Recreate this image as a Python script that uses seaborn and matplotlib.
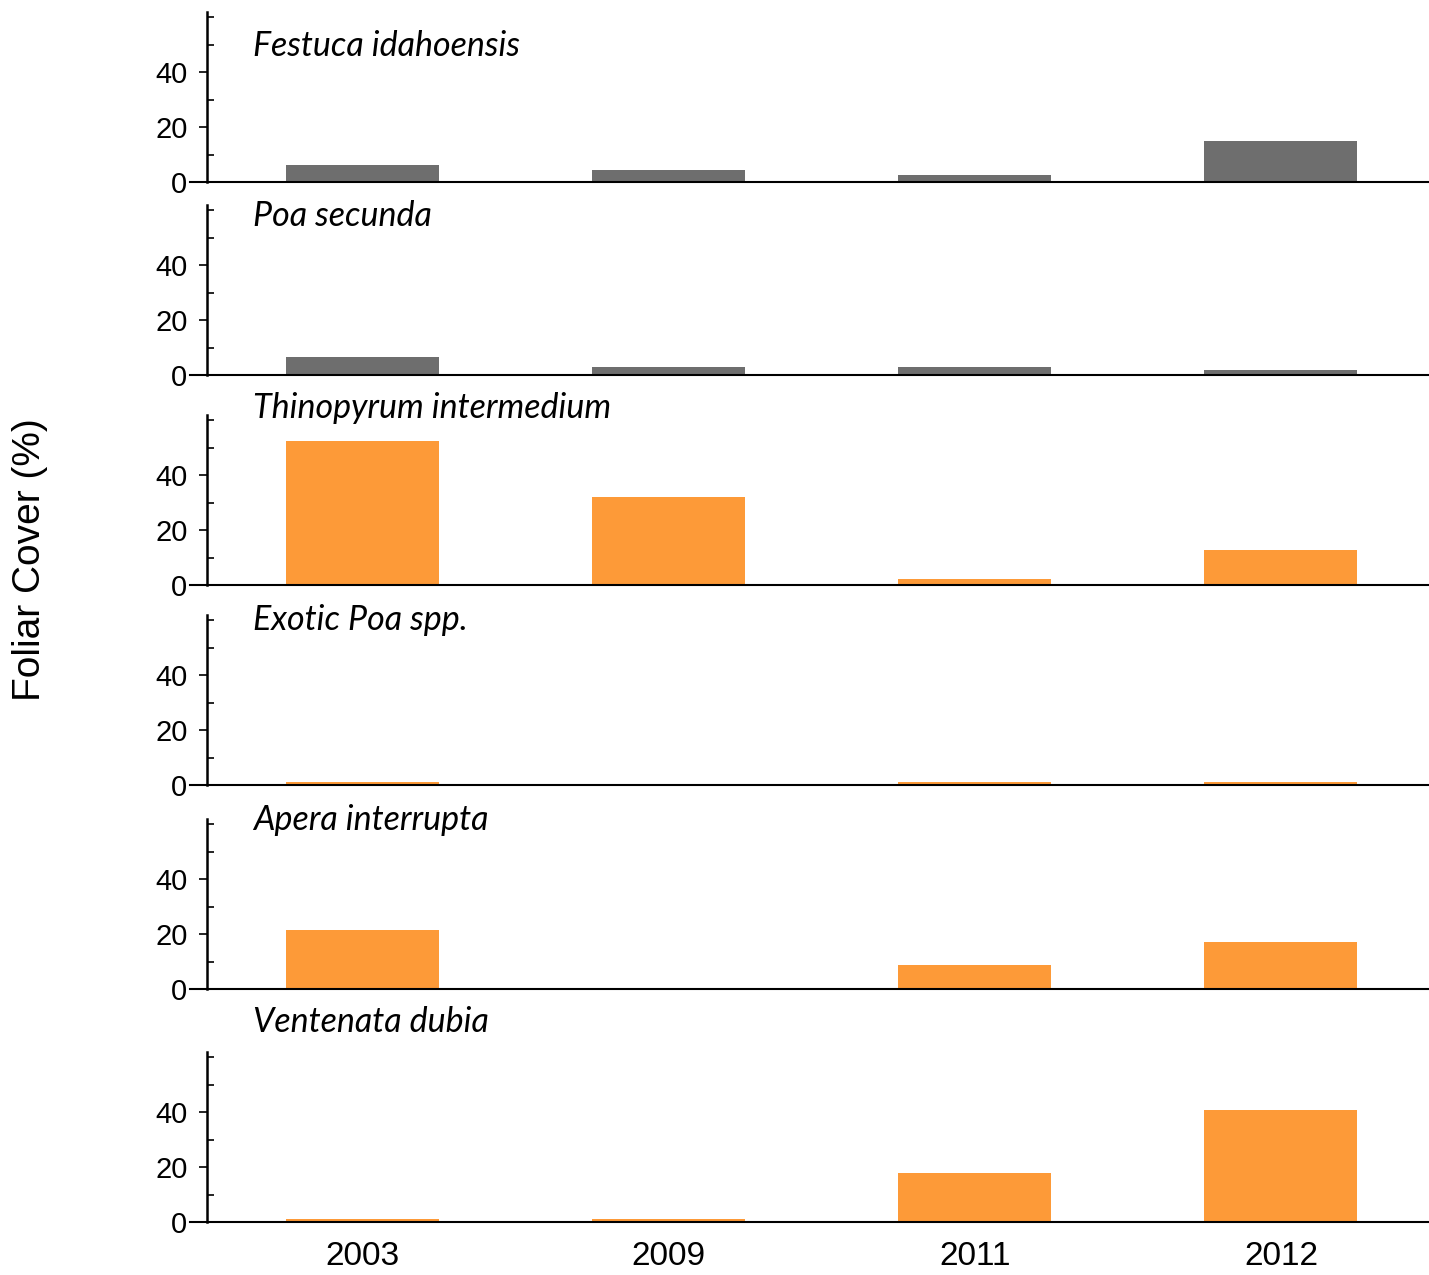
import matplotlib
matplotlib.use("Agg")
import matplotlib.pyplot as plt
from matplotlib.ticker import MultipleLocator
import seaborn as sns
import pandas as pd

# ---- data ----
years = ["2003", "2009", "2011", "2012"]
species = ["Festuca idahoensis", "Poa secunda", "Thinopyrum intermedium",
           "Exotic Poa spp.", "Apera interrupta", "Ventenata dubia"]
festuca = [6.2, 4.4, 2.5, 14.9]
poa_secunda = [6.4, 2.9, 2.9, 1.8]
thinopyrum = [52.6, 32.2, 2.2, 12.6]
exotic_poa = [1.1, 0.0, 1.1, 1.1]
apera = [21.5, 0.0, 8.7, 17.0]
ventenata = [1.2, 1.2, 18.0, 40.7]
status = ["native", "native", "exotic", "exotic", "exotic", "exotic"]
y_ticks = [0, 20, 40]

values = [festuca, poa_secunda, thinopyrum, exotic_poa, apera, ventenata]
palette = {"native": "#6e6e6e", "exotic": "#fd9a38"}

sns.set_style("ticks")
plt.rcParams["font.family"] = ["Liberation Sans", "DejaVu Sans"]
plt.rcParams["text.color"] = "black"
plt.rcParams["xtick.color"] = "black"
plt.rcParams["ytick.color"] = "black"
plt.rcParams["axes.edgecolor"] = "black"

W, H = 1429, 1275
fig = plt.figure(figsize=(W / 100, H / 100), dpi=100)

zero_px = [182, 375, 585, 785, 989, 1222]
title_px = [46, 216, 408, 620, 820, 1022]
panel_h = 170
ax_left_px = 190
xmin = -0.5 - 19 / 306
xmax = 3 + (1429 - 1281) / 306

for i, (sp, vals, st) in enumerate(zip(species, values, status)):
    ax = fig.add_axes([ax_left_px / W, 1 - zero_px[i] / H,
                       (W - ax_left_px) / W, panel_h / H])
    df = pd.DataFrame({"year": years, "cover": vals})
    sns.barplot(data=df, x="year", y="cover", color=palette[st], width=0.5,
                saturation=1, ax=ax, edgecolor="none")
    ax.set_xlim(xmin, xmax)
    ax.set_ylim(0, 62)
    ax.set_xlabel("")
    ax.set_ylabel("")
    for s in ["top", "right"]:
        ax.spines[s].set_visible(False)
    ax.spines["left"].set_position(("data", -0.507))
    ax.spines["left"].set_linewidth(1.8)
    ax.spines["left"].set_bounds(0, 62)
    ax.spines["bottom"].set_linewidth(1.5)
    ax.set_yticks(y_ticks)
    ax.yaxis.set_minor_locator(MultipleLocator(10))
    ax.tick_params(axis="y", which="major", direction="out", length=6,
                   width=1.2, labelsize=21, pad=8)
    ax.tick_params(axis="y", which="minor", direction="in", length=5, width=1.2)
    ax.tick_params(axis="x", length=0, labelsize=24, pad=14)
    if i < len(species) - 1:
        ax.set_xticklabels([])
    fig.text(253 / W, 1 - title_px[i] / H, sp, fontsize=24.5, style="italic",
             family=["Lato", "DejaVu Sans"], va="center", ha="left")

fig.text(30 / W, 1 - 560 / H, "Foliar Cover (%)", rotation=90, fontsize=28,
         va="center", ha="center")

fig.savefig("out.png", dpi=100)
